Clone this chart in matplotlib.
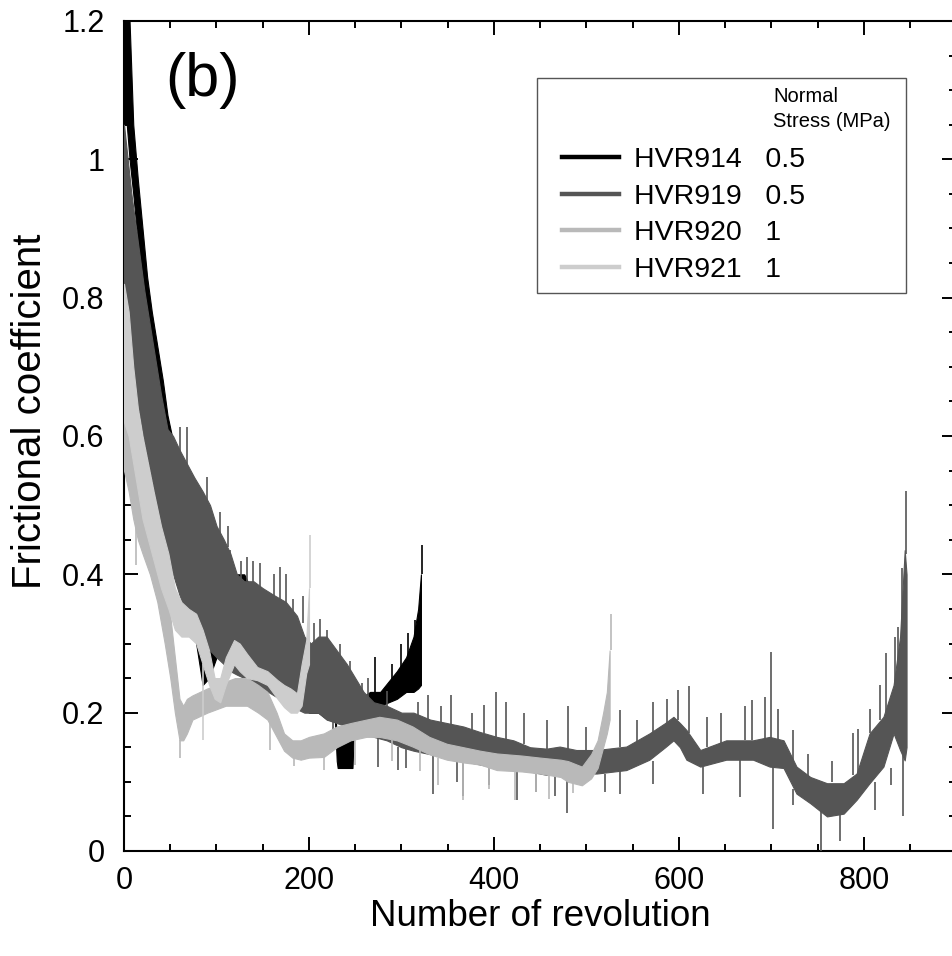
import numpy as np
import matplotlib.pyplot as plt
from matplotlib.patches import Rectangle
from matplotlib.lines import Line2D
from matplotlib.ticker import MultipleLocator, FuncFormatter

plt.rcParams['font.family'] = ['Liberation Sans', 'DejaVu Sans']

# HVR919 (0.5 MPa) - envelope: revolution, lower, upper
rev_919 = [0, 4, 8, 12, 17, 22, 28, 34, 40, 47, 53, 60, 68, 76, 85, 93, 100, 108,
           115, 122, 130, 140, 150, 162, 175, 187, 195, 202, 210, 219, 230, 241,
           250, 259, 270, 284, 300, 313, 331, 349, 367, 385, 403, 421, 439, 457,
           471, 489, 511, 543, 568, 585, 594, 601, 608, 623, 651, 680, 698, 713,
           727, 742, 760, 778, 792, 806, 821, 832, 839, 844, 846]
lo_919 = [0.72, 0.74, 0.72, 0.66, 0.63, 0.59, 0.55, 0.51, 0.47, 0.43, 0.40, 0.37,
          0.34, 0.31, 0.30, 0.29, 0.28, 0.27, 0.26, 0.255, 0.25, 0.245, 0.235,
          0.225, 0.215, 0.205, 0.20, 0.20, 0.20, 0.19, 0.185, 0.18, 0.175, 0.17,
          0.165, 0.16, 0.15, 0.145, 0.14, 0.135, 0.13, 0.125, 0.12, 0.12, 0.115,
          0.11, 0.127, 0.112, 0.112, 0.117, 0.132, 0.15, 0.16, 0.15, 0.132,
          0.122, 0.132, 0.132, 0.122, 0.12, 0.083, 0.069, 0.05, 0.054, 0.074,
          0.098, 0.122, 0.17, 0.146, 0.131, 0.15]
hi_919 = [1.05, 1.00, 0.95, 0.91, 0.86, 0.81, 0.76, 0.71, 0.66, 0.61, 0.60, 0.58,
          0.56, 0.54, 0.52, 0.50, 0.47, 0.45, 0.43, 0.40, 0.39, 0.39, 0.38, 0.37,
          0.36, 0.34, 0.31, 0.30, 0.31, 0.31, 0.29, 0.27, 0.25, 0.23, 0.215,
          0.21, 0.20, 0.20, 0.19, 0.185, 0.18, 0.172, 0.165, 0.16, 0.15, 0.148,
          0.151, 0.146, 0.146, 0.151, 0.17, 0.185, 0.194, 0.185, 0.175, 0.146,
          0.16, 0.16, 0.165, 0.16, 0.122, 0.107, 0.098, 0.098, 0.112, 0.17,
          0.194, 0.24, 0.31, 0.435, 0.40]
# spikes: revolution, base, tip
spk_919_x = [61, 68, 90, 104, 112, 115, 126, 133, 140, 147, 162, 169, 175, 183,
             193, 205, 212, 219, 226, 233, 244, 257, 264, 275, 284, 296, 305, 318,
             329, 334, 343, 354, 360, 367, 376, 389, 395, 402, 413, 425, 432, 445,
             457, 466, 479, 480, 500, 520, 536, 536, 555, 572, 572, 587, 599, 611,
             626, 630, 645, 666, 671, 679, 693, 699, 702, 707, 723, 723, 740, 754,
             765, 774, 788, 794, 806, 812, 817, 824, 829, 833, 837, 841, 842.5,
             845.5]
spk_919_a = [0.57, 0.55, 0.50, 0.45, 0.44, 0.42, 0.39, 0.39, 0.38, 0.37, 0.36,
             0.36, 0.35, 0.34, 0.33, 0.29, 0.30, 0.30, 0.19, 0.28, 0.26, 0.23, 0.22,
             0.165, 0.20, 0.15, 0.15, 0.19, 0.19, 0.14, 0.185, 0.18, 0.135, 0.13,
             0.175, 0.17, 0.125, 0.165, 0.16, 0.12, 0.155, 0.115, 0.148, 0.11, 0.11,
             0.14, 0.146, 0.112, 0.15, 0.117, 0.15, 0.17, 0.13, 0.185, 0.19, 0.17,
             0.122, 0.15, 0.155, 0.132, 0.16, 0.16, 0.16, 0.16, 0.127, 0.16, 0.12,
             0.09, 0.105, 0.06, 0.10, 0.06, 0.11, 0.11, 0.17, 0.10, 0.19, 0.20,
             0.12, 0.24, 0.24, 0.30, 0.15, 0.43]
spk_919_b = [0.613, 0.613, 0.54, 0.49, 0.47, 0.435, 0.42, 0.425, 0.42, 0.416,
             0.40, 0.41, 0.40, 0.365, 0.368, 0.33, 0.335, 0.32, 0.15, 0.30, 0.274,
             0.243, 0.25, 0.122, 0.232, 0.117, 0.12, 0.215, 0.226, 0.083, 0.21,
             0.226, 0.10, 0.08, 0.20, 0.211, 0.095, 0.23, 0.216, 0.074, 0.20,
             0.085, 0.19, 0.08, 0.055, 0.209, 0.18, 0.085, 0.204, 0.083, 0.19,
             0.216, 0.097, 0.22, 0.233, 0.238, 0.083, 0.194, 0.20, 0.078, 0.209,
             0.218, 0.223, 0.288, 0.032, 0.206, 0.175, 0.066, 0.14, 0.0, 0.13,
             0.014, 0.17, 0.177, 0.206, 0.06, 0.24, 0.286, 0.095, 0.31, 0.324,
             0.409, 0.05, 0.52]

# HVR914 (0.5 MPa)
rev_914 = [0, 3, 6, 10, 15, 20, 25, 30, 36, 42, 47, 55, 62, 70, 78, 85, 92, 100,
           108, 115, 122, 130, 137, 145, 152, 160, 167, 173, 180, 190, 200, 210,
           220, 228, 230, 231, 247, 249, 255, 266, 277, 286, 295, 305, 313, 318,
           321]
lo_914 = [1.05, 1.05, 1.0, 0.95, 0.88, 0.83, 0.77, 0.72, 0.67, 0.62, 0.57, 0.51,
          0.45, 0.38, 0.30, 0.24, 0.25, 0.28, 0.28, 0.30, 0.32, 0.32, 0.30, 0.28,
          0.26, 0.24, 0.23, 0.23, 0.22, 0.21, 0.20, 0.20, 0.19, 0.19, 0.13, 0.12,
          0.12, 0.19, 0.19, 0.205, 0.21, 0.215, 0.22, 0.23, 0.23, 0.235, 0.24]
hi_914 = [1.25, 1.25, 1.2, 1.05, 0.97, 0.90, 0.83, 0.78, 0.73, 0.68, 0.63, 0.58,
          0.53, 0.48, 0.42, 0.36, 0.35, 0.37, 0.38, 0.40, 0.40, 0.40, 0.38, 0.35,
          0.32, 0.30, 0.28, 0.27, 0.27, 0.26, 0.25, 0.24, 0.23, 0.22, 0.16, 0.16,
          0.16, 0.22, 0.22, 0.23, 0.23, 0.245, 0.26, 0.28, 0.31, 0.35, 0.40]
spk_914_x = [271, 290, 300, 307, 315, 322]
spk_914_a = [0.23, 0.24, 0.26, 0.28, 0.31, 0.40]
spk_914_b = [0.28, 0.27, 0.30, 0.315, 0.334, 0.442]

# HVR920 (1 MPa)
rev_920 = [0, 5, 10, 15, 20, 28, 36, 44, 50, 55, 60, 64, 68, 74, 82, 90, 100, 110,
           120, 133, 145, 155, 165, 173, 182, 191, 200, 216, 230, 245, 262, 276,
           295, 312, 330, 349, 367, 385, 403, 430, 450, 472, 480, 495, 505, 512,
           518, 522, 525]
lo_920 = [0.55, 0.52, 0.48, 0.45, 0.43, 0.40, 0.36, 0.30, 0.25, 0.20, 0.16, 0.16,
          0.17, 0.19, 0.195, 0.20, 0.205, 0.21, 0.21, 0.21, 0.20, 0.19, 0.165,
          0.145, 0.135, 0.132, 0.135, 0.136, 0.15, 0.16, 0.165, 0.165, 0.16, 0.151,
          0.14, 0.132, 0.128, 0.125, 0.117, 0.115, 0.112, 0.107, 0.10, 0.095,
          0.105, 0.12, 0.15, 0.17, 0.19]
hi_920 = [0.80, 0.70, 0.62, 0.58, 0.54, 0.50, 0.46, 0.40, 0.34, 0.28, 0.22, 0.21,
          0.22, 0.225, 0.23, 0.235, 0.24, 0.245, 0.25, 0.25, 0.24, 0.23, 0.20,
          0.17, 0.16, 0.16, 0.165, 0.17, 0.18, 0.185, 0.19, 0.194, 0.19, 0.18,
          0.165, 0.155, 0.15, 0.145, 0.141, 0.138, 0.135, 0.132, 0.13, 0.122,
          0.14, 0.16, 0.20, 0.23, 0.29]
spk_920_x = [12.6, 61, 158, 184, 216, 250, 290, 320, 340, 367, 395, 423, 445, 460,
             485, 526]
spk_920_a = [0.50, 0.16, 0.19, 0.135, 0.14, 0.16, 0.16, 0.15, 0.135, 0.13, 0.125,
             0.116, 0.112, 0.11, 0.10, 0.29]
spk_920_b = [0.414, 0.134, 0.146, 0.123, 0.117, 0.125, 0.13, 0.115, 0.095, 0.074,
             0.09, 0.074, 0.085, 0.075, 0.0835, 0.343]

# HVR921 (1 MPa)
rev_921 = [0, 5, 10, 15, 20, 26, 32, 40, 48, 55, 62, 70, 78, 85, 92, 98, 104, 110,
           119, 125, 133, 144, 155, 166, 173, 180, 187, 192, 197, 200]
lo_921 = [0.62, 0.60, 0.56, 0.52, 0.48, 0.45, 0.42, 0.38, 0.35, 0.32, 0.31, 0.31,
          0.30, 0.27, 0.24, 0.22, 0.215, 0.24, 0.27, 0.26, 0.25, 0.247, 0.24,
          0.22, 0.208, 0.20, 0.20, 0.21, 0.257, 0.27]
hi_921 = [0.82, 0.78, 0.70, 0.64, 0.60, 0.56, 0.52, 0.47, 0.43, 0.38, 0.36, 0.35,
          0.343, 0.32, 0.29, 0.25, 0.25, 0.28, 0.305, 0.30, 0.285, 0.266, 0.26,
          0.247, 0.24, 0.235, 0.228, 0.27, 0.305, 0.38]
spk_921_x = [85, 201]
spk_921_a = [0.27, 0.38]
spk_921_b = [0.16, 0.457]

names = ['HVR914', 'HVR919', 'HVR920', 'HVR921']
stress = ['0.5', '0.5', '1', '1']
colors = ['#000000', '#555555', '#b9b9b9', '#cdcdcd']

fig = plt.figure(figsize=(9.53, 9.56), dpi=100)
ax = fig.add_axes([124 / 953, 105 / 956, 832.5 / 953, 830 / 956])


def draw(rev, lo, hi, sx, sa, sb, color, z):
    ax.fill_between(rev, lo, hi, color=color, lw=0.8, zorder=z)
    ax.vlines(sx, sa, sb, color=color, lw=1.2, zorder=z)


draw(rev_914, lo_914, hi_914, spk_914_x, spk_914_a, spk_914_b, colors[0], 2)
draw(rev_919, lo_919, hi_919, spk_919_x, spk_919_a, spk_919_b, colors[1], 3)
draw(rev_920, lo_920, hi_920, spk_920_x, spk_920_a, spk_920_b, colors[2], 4)
draw(rev_921, lo_921, hi_921, spk_921_x, spk_921_a, spk_921_b, colors[3], 5)

ax.set_xlim(0, 900)
ax.set_ylim(0, 1.2)
ax.xaxis.set_major_locator(MultipleLocator(200))
ax.xaxis.set_minor_locator(MultipleLocator(50))
ax.yaxis.set_major_locator(MultipleLocator(0.2))
ax.yaxis.set_minor_locator(MultipleLocator(0.05))
ax.yaxis.set_major_formatter(FuncFormatter(lambda v, p: f'{v:g}'))
ax.tick_params(which='both', direction='in', top=True, right=True, width=1.4)
ax.tick_params(which='major', length=10, labelsize=22)
ax.tick_params(which='minor', length=5)
ax.tick_params(axis='x', pad=11)
ax.tick_params(axis='y', pad=14)
for s in ax.spines.values():
    s.set_linewidth(1.5)

ax.set_xlabel('Number of revolution', fontsize=26.5)
ax.set_ylabel('Frictional coefficient', fontsize=29)
ax.xaxis.set_label_coords(0.5, -0.079)
ax.xaxis.label.set_va('center')
ax.yaxis.set_label_coords(-0.113, 0.53)
ax.yaxis.label.set_va('center')

ax.text(0.049, 0.928, '(b)', transform=ax.transAxes, fontsize=44,
        ha='left', va='center')

# legend box
ax.add_patch(Rectangle((0.496, 0.672), 0.443, 0.259, transform=ax.transAxes,
                       fill=False, ec='#555555', lw=1.0, zorder=6))
ax.text(0.780, 0.921, 'Normal\nStress (MPa)', transform=ax.transAxes,
        fontsize=14.5, ha='left', va='top', linespacing=1.4, zorder=7)
handles = [Line2D([], [], color=c, lw=3.2) for c in colors]
labels = [f'{n}   {s}' for n, s in zip(names, stress)]
ax.legend(handles, labels, loc='upper left', bbox_to_anchor=(0.526, 0.848),
          frameon=False, fontsize=20.5, handlelength=2.0, handletextpad=0.52,
          labelspacing=0.37, borderpad=0, borderaxespad=0)

fig.savefig('out.png', dpi=100)
